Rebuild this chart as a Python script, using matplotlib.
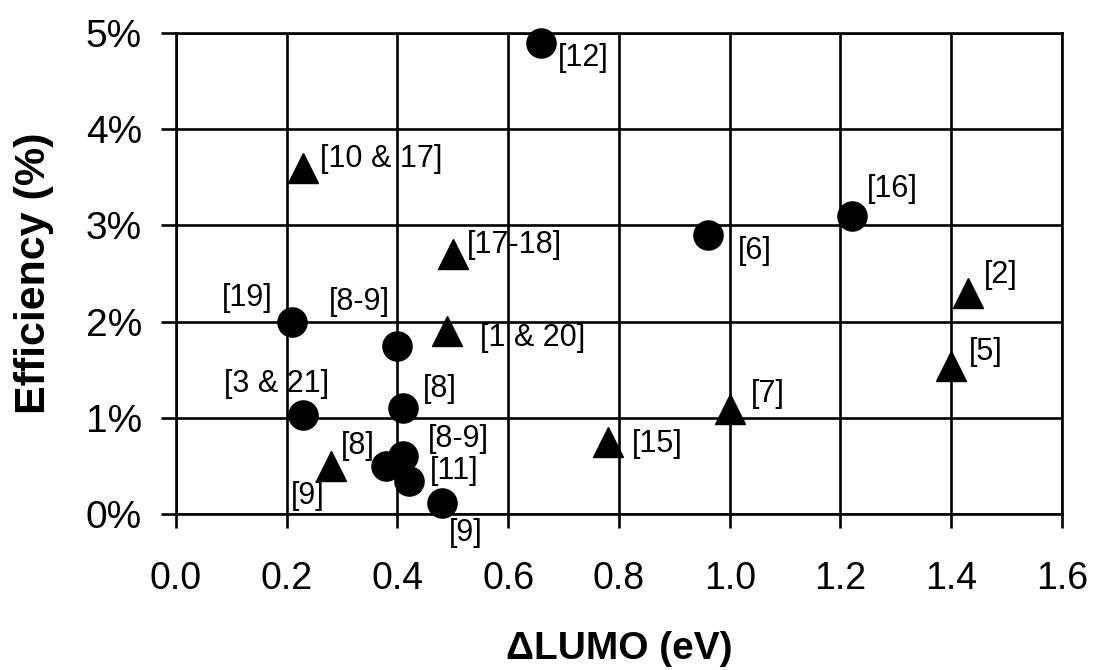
import matplotlib
matplotlib.use("Agg")
import matplotlib.pyplot as plt
from matplotlib.ticker import FuncFormatter

plt.rcParams['font.family'] = ['Liberation Sans', 'DejaVu Sans']

# ---- data ----
circle_x = [0.66, 0.96, 1.22, 0.21, 0.40, 0.23, 0.41, 0.38, 0.41, 0.42, 0.48]
circle_y = [4.90, 2.90, 3.10, 2.00, 1.75, 1.03, 1.10, 0.50, 0.60, 0.34, 0.11]
circle_labels = ['[12]', '[6]', '[16]', '[19]', '[8-9]', '[3 & 21]', '[8]',
                 None, '[8-9]', '[11]', '[9]']

tri_x = [0.23, 0.50, 0.49, 1.43, 1.40, 1.00, 0.78, 0.28]
tri_y = [3.60, 2.70, 1.90, 2.30, 1.54, 1.09, 0.75, 0.50]
tri_labels = ['[10 & 17]', '[17-18]', '[1 & 20]', '[2]', '[5]', '[7]', '[15]', '[8]']

# extra label for the triangle at 0.28
extra_label_point = (0.28, 0.50)
extra_label = '[9]'

x_ticks = [0.0, 0.2, 0.4, 0.6, 0.8, 1.0, 1.2, 1.4, 1.6]
y_ticks = [0, 1, 2, 3, 4, 5]

# ---- layout (label offsets in pixels, +x right, +y up) ----
circle_offsets = [(42, -15), (47, -15.5), (41, 26.5), (-45, 23.5), (-38, 44),
                  (-27, 31), (37, 19), None, (55, 17.5), (46, 10), (24, -30)]
tri_offsets = [(78, 9), (62, 9), (85, -6.7), (33, 18), (35, 14), (38, 15),
               (49, -2.6), (27, 20)]
extra_offset = (-23, -30)

fig = plt.figure(figsize=(10.97, 6.70), dpi=100)
ax = fig.add_axes([0.1604, 0.2328, 0.9681 - 0.1604, 0.9507 - 0.2328])

ax.plot(circle_x, circle_y, linestyle='none', marker='o', ms=21,
        color='black', zorder=5, clip_on=False)
ax.plot(tri_x, tri_y, linestyle='none', marker='^', ms=21.5,
        color='black', zorder=5, clip_on=False)

lab_fs = 22
for x, y, lab, off in zip(circle_x, circle_y, circle_labels, circle_offsets):
    if lab is None:
        continue
    ax.annotate(lab, (x, y), xytext=off, textcoords='offset pixels',
                ha='center', va='center', fontsize=lab_fs, zorder=6,
                annotation_clip=False)
for x, y, lab, off in zip(tri_x, tri_y, tri_labels, tri_offsets):
    ax.annotate(lab, (x, y), xytext=off, textcoords='offset pixels',
                ha='center', va='center', fontsize=lab_fs, zorder=6,
                annotation_clip=False)
ax.annotate(extra_label, extra_label_point, xytext=extra_offset,
            textcoords='offset pixels', ha='center', va='center',
            fontsize=lab_fs, zorder=6, annotation_clip=False)

ax.set_xlim(0, 1.6)
ax.set_ylim(0, 5)
ax.set_xticks(x_ticks)
ax.set_yticks(y_ticks)
ax.xaxis.set_major_formatter(FuncFormatter(lambda v, p: f"{v:.1f}"))
ax.yaxis.set_major_formatter(FuncFormatter(lambda v, p: f"{v:.0f}%"))

ax.grid(True, color='black', linewidth=1.9, zorder=1)
ax.set_axisbelow(True)
for s in ax.spines.values():
    s.set_color('black')
    s.set_linewidth(1.9)

ax.tick_params(axis='x', direction='out', length=10, width=1.9,
               labelsize=27, pad=24, colors='black')
ax.tick_params(axis='y', direction='out', length=11, width=1.9,
               labelsize=28, pad=13.5, colors='black')

ax.set_xlabel('\u0394LUMO (eV)', fontsize=28, fontweight='bold', labelpad=24)
ax.set_ylabel('Efficiency (%)', fontsize=31, fontweight='bold', labelpad=23)

fig.savefig('out.png', dpi=100)
